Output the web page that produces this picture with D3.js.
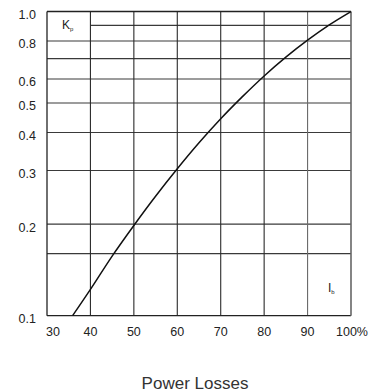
<!DOCTYPE html>
<html>
<head>
<meta charset="utf-8">
<script src="https://cdn.jsdelivr.net/npm/d3@7"></script>
<style>
  html, body { margin: 0; padding: 0; background: #fff; }
  svg { display: block; font-family: "Liberation Sans", Arial, Helvetica, sans-serif; }
</style>
</head>
<body>
<svg id="chart" width="378" height="392"></svg>
<script>
// ---- data ----
const xTicks = [30, 40, 50, 60, 70, 80, 90, 100];
const xTickLabels = ["30", "40", "50", "60", "70", "80", "90", "100%"];
const yTicks = [0.1, 0.2, 0.3, 0.4, 0.5, 0.6, 0.8, 1.0];
const yTickLabels = ["0.1", "0.2", "0.3", "0.4", "0.5", "0.6", "0.8", "1.0"];
const yGrid = [0.16, 0.2, 0.3, 0.4, 0.5, 0.6, 0.7, 0.8, 0.9];
const loadPct = [35.9, 40, 45, 50, 55, 60, 65, 70, 75, 80, 85, 90, 95, 100];
const kp =      [0.1, 0.122, 0.157, 0.198, 0.247, 0.304, 0.370, 0.444, 0.525, 0.614, 0.708, 0.805, 0.904, 1.0];

const svg = d3.select("#chart");
const L = 47, R = 351, T = 11.5, B = 315.7;
const x = d3.scaleLinear().domain([30, 100]).range([L, R]);
const y = d3.scaleLog().domain([0.1, 1]).range([B, T]);

const grid = svg.append("g");
// horizontal grid
grid.selectAll("line.h").data(yGrid).enter().append("line")
  .attr("x1", d => d >= 0.9 ? x(40) : L).attr("x2", R)
  .attr("y1", d => y(d)).attr("y2", d => y(d))
  .attr("stroke", "#3a3a3a").attr("stroke-width", 1.1);
// vertical grid
grid.selectAll("line.v").data(xTicks.slice(1, -1)).enter().append("line")
  .attr("x1", d => x(d)).attr("x2", d => x(d))
  .attr("y1", T).attr("y2", B)
  .attr("stroke", d => d === 90 ? "#6a6a6a" : "#2a2a2a").attr("stroke-width", 1.1);
// frame
svg.append("line").attr("x1", L).attr("x2", R).attr("y1", T).attr("y2", T).attr("stroke", "#222").attr("stroke-width", 1.3);
svg.append("line").attr("x1", L).attr("x2", R).attr("y1", B).attr("y2", B).attr("stroke", "#222").attr("stroke-width", 1.3);
svg.append("line").attr("x1", L).attr("x2", L).attr("y1", T).attr("y2", B).attr("stroke", "#222").attr("stroke-width", 1.3);
svg.append("line").attr("x1", R).attr("x2", R).attr("y1", T).attr("y2", B).attr("stroke", "#666").attr("stroke-width", 1.6);

// curve
const pts = loadPct.map((v, i) => [v, kp[i]]);
svg.append("path").datum(pts)
  .attr("fill", "none").attr("stroke", "#111").attr("stroke-width", 1.5)
  .attr("d", d3.line().x(d => x(d[0])).y(d => y(d[1])).curve(d3.curveMonotoneX));

// y tick labels
svg.selectAll("text.yl").data(yTicks).enter().append("text")
  .attr("x", 36).attr("y", d => y(d) + 3)
  .attr("dy", "0.35em").attr("text-anchor", "end")
  .attr("font-size", 12.5).attr("fill", "#222")
  .text((d, i) => yTickLabels[i]);

// x tick labels
svg.selectAll("text.xl").data(xTicks).enter().append("text")
  .attr("x", (d, i) => x(d) + (i === 0 ? 6 : 0) + (i === xTicks.length - 1 ? 1 : 0))
  .attr("y", 332).attr("dy", "0.35em").attr("text-anchor", "middle")
  .attr("font-size", 12.5).attr("fill", "#222")
  .text((d, i) => xTickLabels[i]);

// axis symbols
const kLab = svg.append("text").attr("x", 62).attr("y", 29).attr("font-size", 12).attr("fill", "#222");
kLab.append("tspan").text("K");
kLab.append("tspan").attr("font-size", 6).attr("dy", 2).text("p");
const iLab = svg.append("text").attr("x", 328).attr("y", 292).attr("font-size", 12).attr("fill", "#222");
iLab.append("tspan").text("I");
iLab.append("tspan").attr("font-size", 6).attr("dy", 2).text("b");

// title
svg.append("text").attr("x", 195).attr("y", 383).attr("dy", "0.35em")
  .attr("text-anchor", "middle").attr("font-size", 17).attr("fill", "#333")
  .text("Power Losses");
</script>
</body>
</html>
